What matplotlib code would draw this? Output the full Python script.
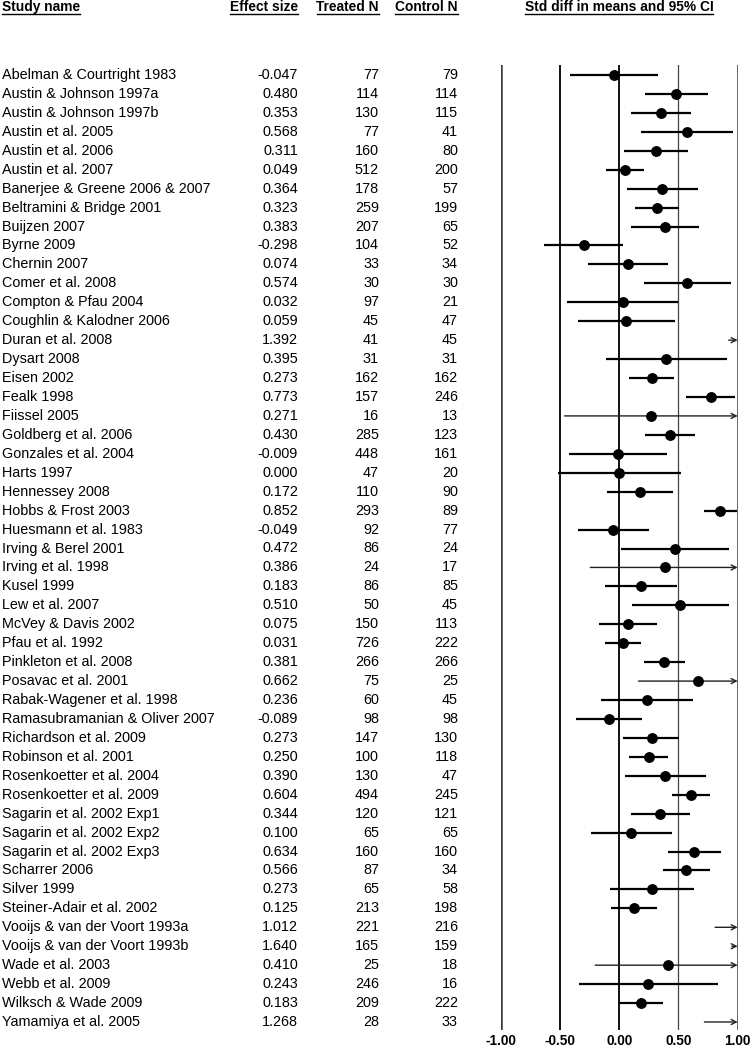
import matplotlib
matplotlib.use("Agg")
import matplotlib.pyplot as plt
from matplotlib.transforms import blended_transform_factory
from matplotlib.lines import Line2D

plt.rcParams['font.family'] = ['Liberation Sans', 'DejaVu Sans']

names = ["Abelman & Courtright 1983", "Austin & Johnson 1997a", "Austin & Johnson 1997b",
         "Austin et al. 2005", "Austin et al. 2006", "Austin et al. 2007",
         "Banerjee & Greene 2006 & 2007", "Beltramini & Bridge 2001", "Buijzen 2007",
         "Byrne 2009", "Chernin 2007", "Comer et al. 2008", "Compton & Pfau 2004",
         "Coughlin & Kalodner 2006", "Duran et al. 2008", "Dysart 2008", "Eisen 2002",
         "Fealk 1998", "Fiissel 2005", "Goldberg et al. 2006", "Gonzales et al. 2004",
         "Harts 1997", "Hennessey 2008", "Hobbs & Frost 2003", "Huesmann et al. 1983",
         "Irving & Berel 2001", "Irving et al. 1998", "Kusel 1999", "Lew et al. 2007",
         "McVey & Davis 2002", "Pfau et al. 1992", "Pinkleton et al. 2008",
         "Posavac et al. 2001", "Rabak-Wagener et al. 1998", "Ramasubramanian & Oliver 2007",
         "Richardson et al. 2009", "Robinson et al. 2001", "Rosenkoetter et al. 2004",
         "Rosenkoetter et al. 2009", "Sagarin et al. 2002 Exp1", "Sagarin et al. 2002 Exp2",
         "Sagarin et al. 2002 Exp3", "Scharrer 2006", "Silver 1999",
         "Steiner-Adair et al. 2002", "Vooijs & van der Voort 1993a",
         "Vooijs & van der Voort 1993b", "Wade et al. 2003", "Webb et al. 2009",
         "Wilksch & Wade 2009", "Yamamiya et al. 2005"]

effect = [-0.047, 0.480, 0.353, 0.568, 0.311, 0.049, 0.364, 0.323, 0.383, -0.298,
          0.074, 0.574, 0.032, 0.059, 1.392, 0.395, 0.273, 0.773, 0.271, 0.430,
          -0.009, 0.000, 0.172, 0.852, -0.049, 0.472, 0.386, 0.183, 0.510, 0.075,
          0.031, 0.381, 0.662, 0.236, -0.089, 0.273, 0.250, 0.390, 0.604, 0.344,
          0.100, 0.634, 0.566, 0.273, 0.125, 1.012, 1.640, 0.410, 0.243, 0.183, 1.268]

treated = [77, 114, 130, 77, 160, 512, 178, 259, 207, 104,
           33, 30, 97, 45, 41, 31, 162, 157, 16, 285,
           448, 47, 110, 293, 92, 86, 24, 86, 50, 150,
           726, 266, 75, 60, 98, 147, 100, 130, 494, 120,
           65, 160, 87, 65, 213, 221, 165, 25, 246, 209, 28]

control = [79, 114, 115, 41, 80, 200, 57, 199, 65, 52,
           34, 30, 21, 47, 45, 31, 162, 246, 13, 123,
           161, 20, 90, 89, 77, 24, 17, 85, 45, 113,
           222, 266, 25, 45, 98, 130, 118, 47, 245, 121,
           65, 160, 34, 58, 198, 216, 159, 18, 16, 222, 33]

# 95% CI
lower = [-0.419, 0.219, 0.101, 0.180, 0.042, -0.112, 0.065, 0.135, 0.096, -0.632,
         -0.267, 0.208, -0.441, -0.351, 0.924, -0.112, 0.082, 0.562, -0.461, 0.219,
         -0.421, -0.520, -0.107, 0.716, -0.351, 0.017, -0.244, -0.118, 0.104, -0.168,
         -0.118, 0.211, 0.163, -0.152, -0.368, 0.034, 0.084, 0.051, 0.449, 0.096,
         -0.242, 0.413, 0.368, -0.081, -0.067, 0.809, 1.410, -0.202, -0.340, -0.005, 0.719]
upper = [0.326, 0.747, 0.607, 0.960, 0.579, 0.213, 0.663, 0.508, 0.674, 0.031,
         0.416, 0.941, 0.500, 0.469, 1.860, 0.907, 0.466, 0.980, 1.006, 0.643,
         0.404, 0.525, 0.455, 0.995, 0.255, 0.927, 1.016, 0.486, 0.924, 0.320,
         0.183, 0.553, 1.161, 0.623, 0.194, 0.508, 0.416, 0.730, 0.764, 0.598,
         0.444, 0.859, 0.770, 0.634, 0.323, 1.215, 1.870, 1.022, 0.831, 0.371, 1.817]

ticks = [-1.0, -0.5, 0.0, 0.5, 1.0]

W, H = 751, 1050
fig = plt.figure(figsize=(W / 100, H / 100), dpi=100, facecolor='white')

# forest axes: x -1..1 between px 500.7 and 737.7, rows from px 65 to 1030
top_px, bot_px = 65, 1030
ax = fig.add_axes([500.7 / W, 1 - bot_px / H, (737.7 - 500.7) / W, (bot_px - top_px) / H])
n = len(names)
step = 18.94
ax.set_xlim(-1, 1)
ax.set_ylim(n - 1 + 8 / step, -10 / step)
for s in ax.spines.values():
    s.set_visible(False)
ax.set_yticks([])
ax.set_xticks(ticks)
ax.set_xticklabels(['%.2f' % t for t in ticks], fontweight='bold', fontsize=9.8)
ax.tick_params(axis='x', length=0, pad=3)

vstyle = {-1.0: (1.8, '#3a3a3a'), -0.5: (1.4, '#111111'), 0.0: (1.4, '#111111'),
          0.5: (0.9, '#444444'), 1.0: (1.8, '#3a3a3a')}
for t in ticks:
    lw, c = vstyle[t]
    ax.axvline(t, color=c, lw=lw, zorder=1)

for i in range(n):
    lo, hi, es = lower[i], upper[i], effect[i]
    if hi > 1:
        start = min(lo, 0.95)
        ax.annotate('', xy=(1.0, i), xytext=(start, i),
                    arrowprops=dict(arrowstyle='->', lw=1.0, color='#222222',
                                    shrinkA=0, shrinkB=0, mutation_scale=9),
                    zorder=2)
    else:
        ax.hlines(i, lo, hi, color='black', lw=1.6, zorder=2)
    if es <= 1:
        ax.plot(es, i, 'o', color='black', ms=6.8, zorder=3)

# table columns
tr = blended_transform_factory(fig.transFigure, ax.transData)
fs = 10.4
for i in range(n):
    ax.text(2 / W, i, names[i], transform=tr, ha='left', va='center', fontsize=fs)
    ax.text(298 / W, i, '%.3f' % effect[i], transform=tr, ha='right', va='center', fontsize=fs)
    ax.text(379 / W, i, str(treated[i]), transform=tr, ha='right', va='center', fontsize=fs)
    ax.text(458 / W, i, str(control[i]), transform=tr, ha='right', va='center', fontsize=fs)

# headers
hy = 1 - 7 / H
hfs = 9.9
heads = [fig.text(2 / W, hy, 'Study name', ha='left', va='center', fontsize=hfs, fontweight='bold'),
         fig.text(298 / W, hy, 'Effect size', ha='right', va='center', fontsize=hfs, fontweight='bold'),
         fig.text(379 / W, hy, 'Treated N', ha='right', va='center', fontsize=hfs, fontweight='bold'),
         fig.text(458 / W, hy, 'Control N', ha='right', va='center', fontsize=hfs, fontweight='bold'),
         fig.text(619 / W, hy, 'Std diff in means and 95% CI', ha='center', va='center',
                  fontsize=hfs, fontweight='bold')]

fig.canvas.draw()
r = fig.canvas.get_renderer()
uy = 1 - 14 / H
for h in heads:
    bb = h.get_window_extent(r)
    fig.add_artist(Line2D([bb.x0 / W, bb.x1 / W], [uy, uy], transform=fig.transFigure,
                          color='black', lw=1.0))

fig.savefig('out.png', dpi=100, facecolor='white')
